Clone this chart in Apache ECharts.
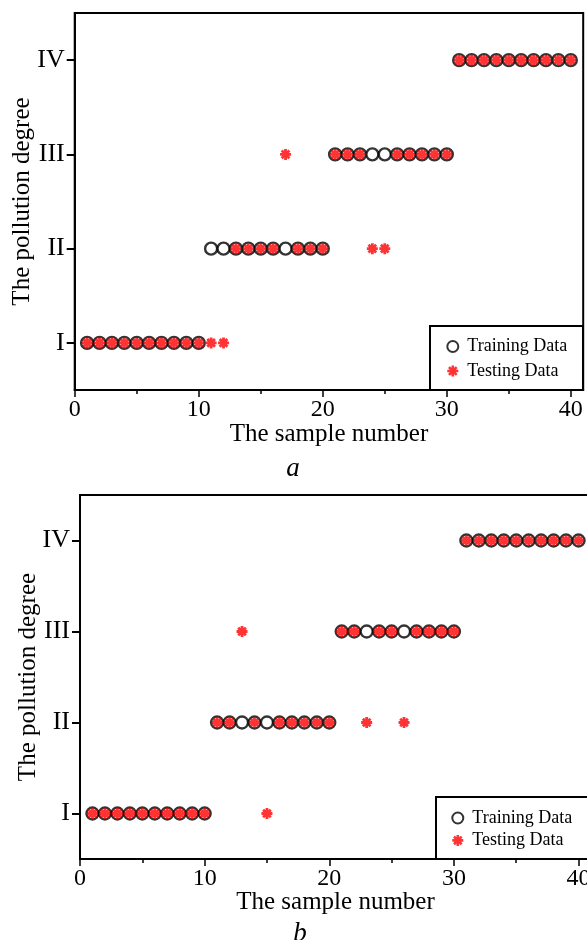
<!DOCTYPE html>
<html>
<head>
<meta charset="utf-8">
<script src="https://cdn.jsdelivr.net/npm/echarts@6/dist/echarts.min.js"></script>
<style>
  html, body { margin: 0; padding: 0; background: #fff; overflow: hidden; }
  #chart { width: 600px; height: 940px; }
</style>
</head>
<body>
<div id="chart"></div>
<script>
// Sample numbers shared by both panels
const sampleNo = [1, 2, 3, 4, 5, 6, 7, 8, 9, 10,
                  11, 12, 13, 14, 15, 16, 17, 18, 19, 20,
                  21, 22, 23, 24, 25, 26, 27, 28, 29, 30,
                  31, 32, 33, 34, 35, 36, 37, 38, 39, 40];

// Pollution degree classes (y axis)
const degreeLevels = ['I', 'II', 'III', 'IV'];

// x-axis tick values
const xLabelTicks = [0, 10, 20, 30, 40];
const xMinorTicks = [0, 5, 10, 15, 20, 25, 30, 35, 40];

// Panel a
const trainA = ['I', 'I', 'I', 'I', 'I', 'I', 'I', 'I', 'I', 'I',
                'II', 'II', 'II', 'II', 'II', 'II', 'II', 'II', 'II', 'II',
                'III', 'III', 'III', 'III', 'III', 'III', 'III', 'III', 'III', 'III',
                'IV', 'IV', 'IV', 'IV', 'IV', 'IV', 'IV', 'IV', 'IV', 'IV'];
const testA  = ['I', 'I', 'I', 'I', 'I', 'I', 'I', 'I', 'I', 'I',
                'I', 'I', 'II', 'II', 'II', 'II', 'III', 'II', 'II', 'II',
                'III', 'III', 'III', 'II', 'II', 'III', 'III', 'III', 'III', 'III',
                'IV', 'IV', 'IV', 'IV', 'IV', 'IV', 'IV', 'IV', 'IV', 'IV'];

// Panel b
const trainB = ['I', 'I', 'I', 'I', 'I', 'I', 'I', 'I', 'I', 'I',
                'II', 'II', 'II', 'II', 'II', 'II', 'II', 'II', 'II', 'II',
                'III', 'III', 'III', 'III', 'III', 'III', 'III', 'III', 'III', 'III',
                'IV', 'IV', 'IV', 'IV', 'IV', 'IV', 'IV', 'IV', 'IV', 'IV'];
const testB  = ['I', 'I', 'I', 'I', 'I', 'I', 'I', 'I', 'I', 'I',
                'II', 'II', 'III', 'II', 'I', 'II', 'II', 'II', 'II', 'II',
                'III', 'III', 'II', 'III', 'III', 'II', 'III', 'III', 'III', 'III',
                'IV', 'IV', 'IV', 'IV', 'IV', 'IV', 'IV', 'IV', 'IV', 'IV'];

const FONT = '"Liberation Serif", "DejaVu Serif", serif';
const ASTERISK = 'path://M5 0L5 10M0 5L10 5M1.5 1.5L8.5 8.5M8.5 1.5L1.5 8.5';

const trainStyle = { color: '#ffffff', borderColor: '#000000', borderWidth: 2.4 };
const testStyle = { color: '#ff0000', borderColor: '#ff0000', borderWidth: 2.8 };

// the canvas is 600 wide; the right-hand 13 px fall outside the visible page
const panels = [
  {
    grid: { left: 74.7, top: 13, width: 508.5, height: 377 },
    train: trainA, test: testA, yNameGap: 40, xNameGap: 32,
    legend: { left: 446, top: 337.5, itemGap: 6.5 },
    box: { x: 430, y: 326, width: 153, height: 64 },
    caption: { text: 'a', x: 293, y: 469 }
  },
  {
    grid: { left: 80, top: 495, width: 511, height: 364 },
    train: trainB, test: testB, yNameGap: 39, xNameGap: 31,
    legend: { left: 451, top: 809, itemGap: 4.4 },
    box: { x: 436, y: 797, width: 200, height: 62 },
    caption: { text: 'b', x: 300, y: 934 }
  }
];

const option = {
  animation: false,
  backgroundColor: '#ffffff',
  grid: [], xAxis: [], yAxis: [], series: [], legend: [], graphic: []
};

panels.forEach((p, i) => {
  option.grid.push(Object.assign({
    show: true, borderColor: '#000', borderWidth: 2, backgroundColor: 'transparent',
    containLabel: false, outerBoundsMode: 'none'
  }, p.grid));

  // main x axis: line, labels and short ticks every 5
  option.xAxis.push({
    gridIndex: i, type: 'value', min: 0, max: 41, position: 'bottom',
    axisLine: { show: true, onZero: false, lineStyle: { color: '#000', width: 2 } },
    axisTick: { show: true, customValues: xMinorTicks, length: 4, lineStyle: { color: '#000', width: 1.5 } },
    axisLabel: { customValues: xLabelTicks, margin: 8, color: '#000', fontFamily: FONT, fontSize: 24 },
    splitLine: { show: false },
    name: 'The sample number', nameLocation: 'middle', nameGap: p.xNameGap, nameMoveOverlap: false,
    nameTextStyle: { color: '#000', fontFamily: FONT, fontSize: 25 }
  });
  // companion axis carrying the longer ticks every 10
  option.xAxis.push({
    gridIndex: i, type: 'value', min: 0, max: 41, position: 'top', offset: -p.grid.height,
    axisLine: { show: false },
    axisTick: { show: true, inside: true, customValues: xLabelTicks, length: 7, lineStyle: { color: '#000', width: 1.5 } },
    axisLabel: { show: false },
    splitLine: { show: false }
  });

  option.yAxis.push({
    gridIndex: i, type: 'category', data: degreeLevels, boundaryGap: true,
    axisLine: { show: true, onZero: false, lineStyle: { color: '#000', width: 2 } },
    axisTick: { show: true, alignWithLabel: true, length: 8, lineStyle: { color: '#000', width: 2 } },
    axisLabel: { margin: 10, color: '#000', fontFamily: FONT, fontSize: 26 },
    splitLine: { show: false },
    name: 'The pollution degree', nameLocation: 'middle', nameGap: p.yNameGap, nameMoveOverlap: false,
    nameTextStyle: { color: '#000', fontFamily: FONT, fontSize: 25 }
  });

  option.series.push({
    type: 'scatter', name: 'Training Data', xAxisIndex: 2 * i, yAxisIndex: i,
    data: sampleNo.map((n, k) => [n, p.train[k]]),
    symbol: 'circle', symbolSize: 12, itemStyle: trainStyle, z: 2,
    emphasis: { disabled: true }
  });
  option.series.push({
    type: 'scatter', name: 'Testing Data', xAxisIndex: 2 * i, yAxisIndex: i,
    data: sampleNo.map((n, k) => [n, p.test[k]]),
    symbol: ASTERISK, symbolSize: 11, itemStyle: testStyle, z: 3,
    emphasis: { disabled: true }
  });

  option.legend.push({
    orient: 'vertical', left: p.legend.left, top: p.legend.top,
    itemGap: p.legend.itemGap, itemWidth: 11, itemHeight: 11, padding: 0,
    selectedMode: false,
    textStyle: { color: '#000', fontFamily: FONT, fontSize: 18, padding: [0, 0, 0, 4] },
    data: [
      { name: 'Training Data', icon: 'circle', itemStyle: { color: '#fff', borderColor: '#000', borderWidth: 2 } },
      { name: 'Testing Data', icon: ASTERISK, itemStyle: { color: '#ff0000', borderColor: '#ff0000', borderWidth: 2.6 } }
    ]
  });

  // legend frame
  option.graphic.push({
    type: 'rect', silent: true, z: 10,
    shape: p.box,
    style: { fill: 'none', stroke: '#000', lineWidth: 2 }
  });
  // panel caption
  option.graphic.push({
    type: 'text', silent: true, x: p.caption.x, y: p.caption.y,
    style: {
      text: p.caption.text, fill: '#000', font: 'italic 27px ' + FONT,
      textAlign: 'center', textVerticalAlign: 'middle'
    }
  });
});

const chart = echarts.init(document.getElementById('chart'), null, { renderer: 'canvas' });
chart.setOption(option);
</script>
</body>
</html>
